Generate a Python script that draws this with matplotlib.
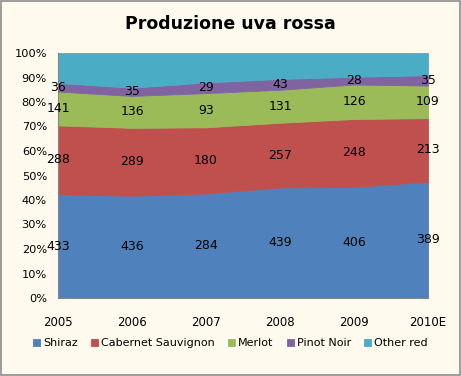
import matplotlib
matplotlib.use("Agg")
import matplotlib.pyplot as plt
import numpy as np
from matplotlib.patches import Rectangle

years = ["2005", "2006", "2007", "2008", "2009", "2010E"]
shiraz = [433, 436, 284, 439, 406, 389]
cabernet = [288, 289, 180, 257, 248, 213]
merlot = [141, 136, 93, 131, 126, 109]
pinot = [36, 35, 29, 43, 28, 35]
other = [125, 148, 80, 103, 87, 74]

series = [("Shiraz", shiraz, "#4F81BD"),
          ("Cabernet Sauvignon", cabernet, "#C0504D"),
          ("Merlot", merlot, "#9BBB59"),
          ("Pinot Noir", pinot, "#8064A2"),
          ("Other red", other, "#4BACC6")]

bg = "#FFF9EE"
fig = plt.figure(figsize=(4.61, 3.76), dpi=100, facecolor=bg)
fig.patches.append(Rectangle((0.002, 0.003), 0.995, 0.994, transform=fig.transFigure,
                             fill=False, edgecolor="#8C8C8C", linewidth=1.2))
ax = fig.add_axes([58/461, 1-298/376, (428-58)/461, (298-53)/376])
ax.set_facecolor(bg)

x = np.arange(len(years))
vals = np.array([s[1] for s in series], dtype=float)
tot = vals.sum(axis=0)
frac = vals / tot
cum = np.vstack([np.zeros(len(years)), np.cumsum(frac, axis=0)])
for i, (name, v, c) in enumerate(series):
    ax.fill_between(x, cum[i], cum[i+1], color=c, linewidth=0.6, edgecolor=c, label=name)
    if name != "Other red":
        for j in range(len(years)):
            ax.text(x[j], (cum[i][j] + cum[i+1][j]) / 2, str(v[j]), ha="center", va="center",
                    fontsize=9, color="black")

ax.set_xlim(0, len(years) - 1)
ax.set_ylim(0, 1)
ax.set_yticks(np.arange(0, 1.01, 0.1))
ax.set_yticklabels([f"{int(round(t*100))}%" for t in np.arange(0, 1.01, 0.1)], fontsize=8.2)
ax.set_xticks(x)
ax.set_xticklabels(years, fontsize=8.5)
ax.tick_params(axis="x", length=0, pad=13)
ax.tick_params(axis="y", length=0, pad=8)
for s in ["top", "right"]:
    ax.spines[s].set_visible(False)
for s in ["left", "bottom"]:
    ax.spines[s].set_color("#868686")

fig.text(0.5, 1 - 24/376, "Produzione uva rossa", ha="center", va="center",
         fontsize=12.5, fontweight="bold")
handles, labels = ax.get_legend_handles_labels()
fig.legend(handles, labels, loc="center", bbox_to_anchor=(0.5, 1 - 343/376), ncol=5,
           frameon=False, fontsize=8, handlelength=0.6, handleheight=0.6,
           handletextpad=0.3, columnspacing=1.2)
fig.savefig("out.png", dpi=100, facecolor=bg)
